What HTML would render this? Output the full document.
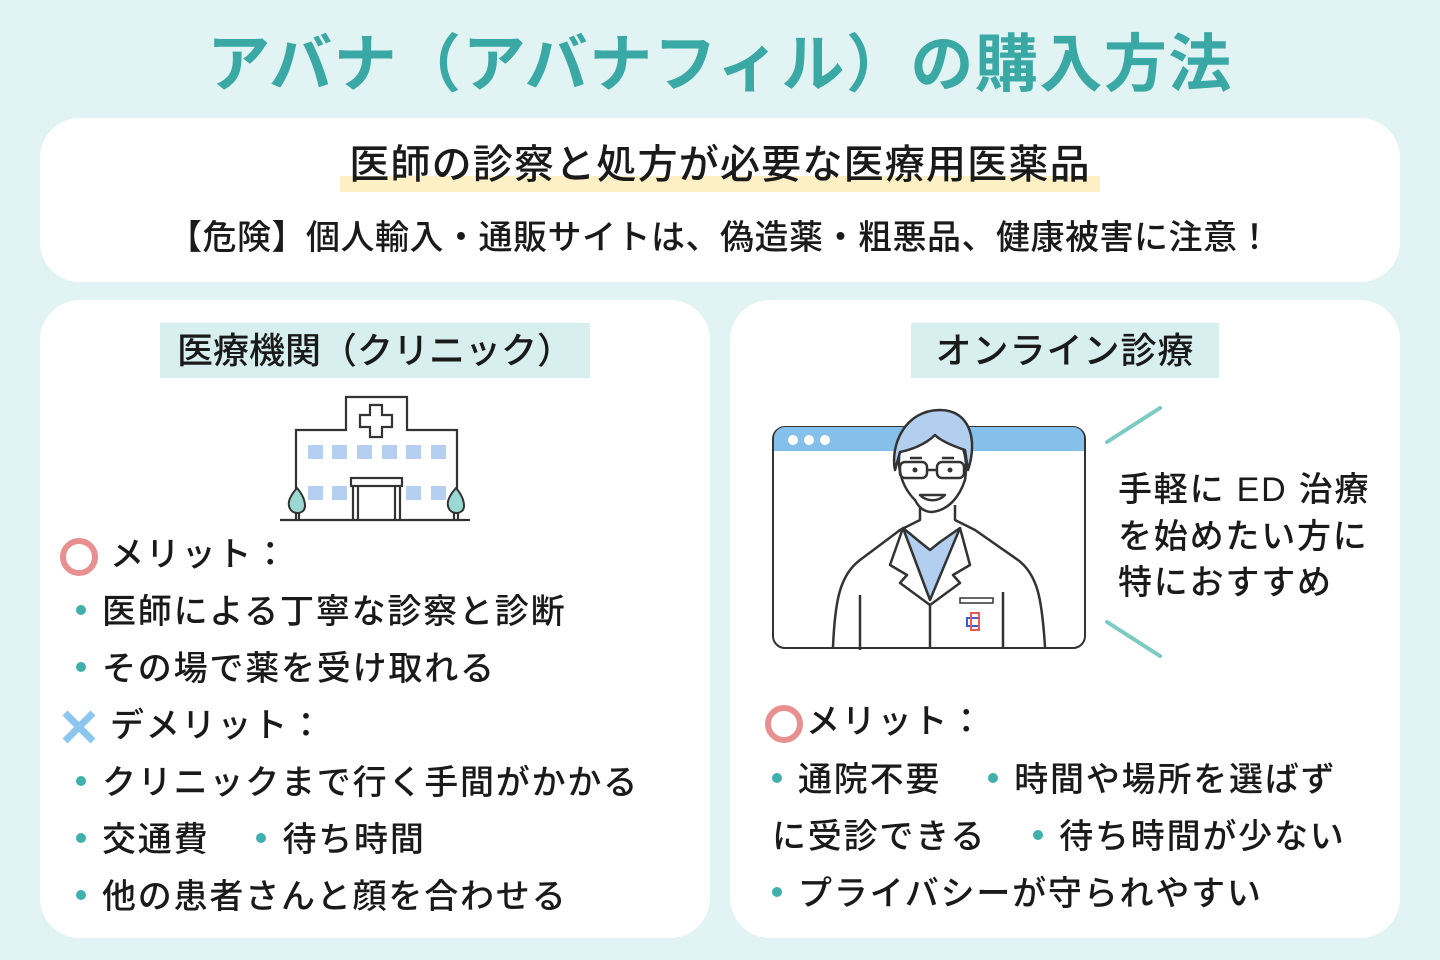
<!DOCTYPE html>
<html><head><meta charset="utf-8"><style>
*{margin:0;padding:0;box-sizing:border-box}
body{width:1440px;height:960px;background:#e2f3f3;position:relative;overflow:hidden;font-family:"Liberation Sans","Noto Sans CJK JP",sans-serif;color:#1a1a1a}
.a{position:absolute;white-space:nowrap;line-height:1}
.card{position:absolute;background:#fff;border-radius:40px}
.t{font-size:34px;letter-spacing:1.8px;font-weight:500}
.dot{display:inline-block;width:10px;height:10px;border-radius:50%;background:#3fb0ac;margin-right:16px;vertical-align:middle;position:relative;top:-4px}
</style></head><body>
<div class="a" style="left:0;width:1440px;text-align:center;top:34px;font-size:63px;font-weight:bold;color:#3aa9a5;letter-spacing:1.5px">アバナ（アバナフィル）の購入方法</div>

<div class="card" style="left:40px;top:118px;width:1360px;height:164px"></div>
<div class="a" style="left:340px;top:176px;width:760px;height:16px;background:#fdf0c4"></div>
<div class="a" style="left:0;width:1440px;text-align:center;top:145px;font-size:40px;letter-spacing:1.2px;font-weight:500">医師の診察と処方が必要な医療用医薬品</div>
<div class="a" style="left:0;width:1440px;text-align:center;top:221px;font-size:34px;letter-spacing:0.5px;font-weight:500">【危険】個人輸入・通販サイトは、偽造薬・粗悪品、健康被害に注意！</div>

<div class="card" style="left:40px;top:300px;width:670px;height:638px"></div>
<div class="card" style="left:730px;top:300px;width:670px;height:638px"></div>

<div class="a" style="left:160px;top:323px;width:430px;height:55px;background:#d8efef"></div>
<div class="a" style="left:160px;top:333px;width:430px;text-align:center;font-size:36px;font-weight:500">医療機関（クリニック）</div>
<div class="a" style="left:911px;top:323px;width:308px;height:55px;background:#d8efef"></div>
<div class="a" style="left:911px;top:333px;width:308px;text-align:center;font-size:36px;letter-spacing:1px;font-weight:500">オンライン診療</div>

<svg class="a" style="left:270px;top:390px" width="220" height="140" viewBox="0 0 220 140">
<g fill="none" stroke="#333" stroke-width="2.2">
<path d="M26 118 V40 H76 V7 H137 V40 H187 V118"/>
<path d="M100 15 h12 v10 h10 v12 h-10 v10 h-12 v-10 h-10 v-12 h10z"/>
<rect x="81" y="88" width="51" height="8"/>
<path d="M83 96 V130 M88 96 V130 M125 96 V130 M130 96 V130"/>
<path d="M10 130 H200"/>
<path d="M26 115 V130 M29 115 V130 M184 115 V130 M188 115 V130"/>
</g>
<g fill="#b5cff0">
<rect x="38" y="55" width="15" height="14"/><rect x="62" y="55" width="15" height="14"/><rect x="87" y="55" width="15" height="14"/><rect x="112" y="55" width="15" height="14"/><rect x="136" y="55" width="15" height="14"/><rect x="161" y="55" width="15" height="14"/>
<rect x="38" y="96" width="15" height="14"/><rect x="62" y="96" width="15" height="14"/><rect x="136" y="96" width="15" height="14"/><rect x="161" y="96" width="15" height="14"/>
</g>
<path d="M27 98 C20 106 18 112 19 116 C20 121 24 123 27 123 C31 123 35 121 35 116 C35 111 33 105 27 98Z" fill="#9ad9d2" stroke="#333" stroke-width="2"/>
<path d="M186 98 C179 106 177 112 178 116 C179 121 183 123 186 123 C190 123 194 121 194 116 C194 111 192 105 186 98Z" fill="#9ad9d2" stroke="#333" stroke-width="2"/>
</svg>

<svg class="a" style="left:760px;top:400px" width="420" height="260" viewBox="0 0 420 260">
<rect x="13" y="27" width="312" height="221" rx="12" fill="#fff" stroke="#333" stroke-width="2"/>
<path d="M14 51 V38 a11 11 0 0 1 11-11 H313 a11 11 0 0 1 11 11 V51Z" fill="#85c0ea"/>
<circle cx="33" cy="40" r="5" fill="#fff"/><circle cx="49" cy="40" r="5" fill="#fff"/><circle cx="65" cy="40" r="5" fill="#fff"/>
<g stroke="#333" stroke-width="2.5" fill="none" stroke-linejoin="round">
<path d="M73 247 C75 200 80 175 100 160 L140 130 L160 120 V105 M195 105 V120 L215 130 L258 160 C278 175 282 200 285 247" fill="#fff"/>
<path d="M143 128 L170 200 L200 128 L180 142 L170 150 L160 142Z" fill="#b3cff0"/>
<path d="M143 128 L130 165 L147 175 L140 183 L170 205 L200 183 L193 175 L210 165 L200 128"/>
<path d="M170 205 V247 M100 195 V250 M243 192 V247"/>
<path d="M155 100 C140 85 137 65 140 50 C145 30 170 25 185 30 C205 38 208 60 205 80 C200 95 190 110 172 112 C163 112 158 106 155 100Z" fill="#fff"/>
<path d="M135 70 C130 45 145 10 180 10 C210 10 218 40 208 70 L205 50 C190 45 180 40 175 35 C165 45 150 50 140 52Z" fill="#b3cff0"/>
<rect x="140" y="62" width="27" height="16" rx="5"/><rect x="177" y="62" width="27" height="16" rx="5"/>
<path d="M167 70 H177 M150 58 H162 M182 58 H194"/>
<path d="M160 95 C167 102 178 102 185 95Z" fill="#fff"/>
</g>
<circle cx="155" cy="70" r="2.5" fill="#333"/><circle cx="190" cy="70" r="2.5" fill="#333"/>
<rect x="200" y="198" width="33" height="5" fill="#fff" stroke="#333" stroke-width="1.5"/>
<rect x="207" y="218" width="12" height="8" fill="none" stroke="#3a5fd0" stroke-width="2"/>
<rect x="211" y="213" width="8" height="17" fill="none" stroke="#e55" stroke-width="2"/>
<path d="M347 42 L400 8" stroke="#7ccac4" stroke-width="4" stroke-linecap="round"/>
<path d="M347 222 L400 256" stroke="#7ccac4" stroke-width="4" stroke-linecap="round"/>
</svg>
<div class="a t" style="left:1118px;top:467px;line-height:46.5px;white-space:normal;width:280px">手軽に ED 治療<br>を始めたい方に<br>特におすすめ</div>

<svg class="a" style="left:58px;top:536px" width="42" height="42"><circle cx="21" cy="21" r="16" fill="none" stroke="#e89090" stroke-width="6"/></svg>
<div class="a t" style="left:110px;top:538px">メリット：</div>
<div class="a t" style="left:76px;top:595px"><span class="dot"></span>医師による丁寧な診察と診断</div>
<div class="a t" style="left:76px;top:652px"><span class="dot"></span>その場で薬を受け取れる</div>
<svg class="a" style="left:60px;top:708px" width="38" height="38"><path d="M5 5 L33 33 M33 5 L5 33" stroke="#8cc6ee" stroke-width="7"/></svg>
<div class="a t" style="left:110px;top:709px">デメリット：</div>
<div class="a t" style="left:76px;top:766px"><span class="dot"></span>クリニックまで行く手間がかかる</div>
<div class="a t" style="left:76px;top:823px"><span class="dot"></span>交通費　 <span class="dot"></span>待ち時間</div>
<div class="a t" style="left:76px;top:880px"><span class="dot"></span>他の患者さんと顔を合わせる</div>

<svg class="a" style="left:763px;top:703px" width="42" height="42"><circle cx="21" cy="21" r="16" fill="none" stroke="#e89090" stroke-width="6"/></svg>
<div class="a t" style="left:806px;top:705px">メリット：</div>
<div class="a t" style="left:772px;top:763px"><span class="dot"></span>通院不要　 <span class="dot"></span>時間や場所を選ばず</div>
<div class="a t" style="left:772px;top:820px">に受診できる　 <span class="dot"></span>待ち時間が少ない</div>
<div class="a t" style="left:772px;top:877px"><span class="dot"></span>プライバシーが守られやすい</div>
</body></html>
